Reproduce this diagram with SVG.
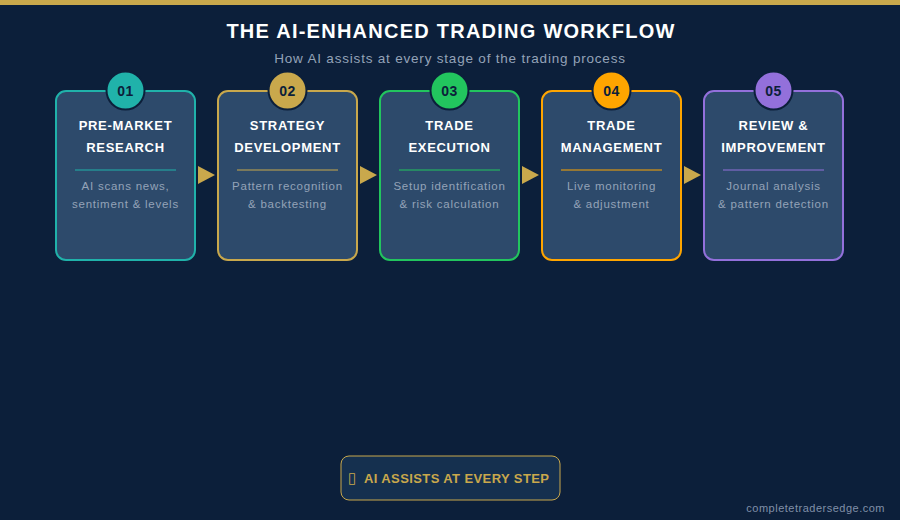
<svg xmlns="http://www.w3.org/2000/svg" width="900" height="520" viewBox="0 0 900 520">
<style>
.title{font-family:"Liberation Sans",Arial,sans-serif;font-weight:bold;font-size:20px;fill:#ffffff;text-anchor:middle;letter-spacing:1.25px}
.sub{font-family:"Liberation Sans",Arial,sans-serif;font-size:13.5px;fill:#94a3b8;text-anchor:middle;letter-spacing:0.8px}
.card{fill:#2d4a6b;stroke-width:2}
.num{font-family:"Liberation Sans",Arial,sans-serif;font-weight:bold;font-size:14px;fill:#0c1f3a;text-anchor:middle;letter-spacing:0.5px}
.head{font-family:"Liberation Sans",Arial,sans-serif;font-weight:bold;font-size:13px;fill:#ffffff;text-anchor:middle;letter-spacing:0.7px}
.desc{font-family:"Liberation Sans",Arial,sans-serif;font-size:11.5px;fill:#94a3b8;text-anchor:middle;letter-spacing:0.75px}
.arrow{fill:#c9a84c}
.badge{font-family:"Liberation Sans",Arial,sans-serif;font-weight:bold;font-size:13px;fill:#c9a84c;letter-spacing:0.4px}
.foot{font-family:"Liberation Sans",Arial,sans-serif;font-size:11px;fill:#8090a8;text-anchor:end;letter-spacing:0.5px}
</style>
<rect x="0" y="0" width="900" height="520" fill="#0c1f3a"/>
<rect x="0" y="0" width="900" height="5" fill="#c9a84c"/>
<text class="title" x="451" y="38">THE AI-ENHANCED TRADING WORKFLOW</text>
<text class="sub" x="450" y="63">How AI assists at every stage of the trading process</text>

<g id="connectors">
<polygon class="arrow" points="198,166 215,175 198,184"/>
<polygon class="arrow" points="360,166 377,175 360,184"/>
<polygon class="arrow" points="522,166 539,175 522,184"/>
<polygon class="arrow" points="684,166 701,175 684,184"/>
</g>

<g id="step1">
<rect class="card" x="56" y="91" width="139" height="169" rx="10" stroke="#20b2aa"/>
<circle cx="125.5" cy="90.5" r="19" fill="#20b2aa" stroke="#0c1f3a" stroke-width="2"/>
<text class="num" x="125.5" y="96">01</text>
<text class="head" x="125.5" y="130">PRE-MARKET</text>
<text class="head" x="125.5" y="152">RESEARCH</text>
<line x1="75" y1="170" x2="176" y2="170" stroke="#20b2aa" stroke-width="1"/>
<text class="desc" x="125.5" y="190">AI scans news,</text>
<text class="desc" x="125.5" y="208">sentiment &amp; levels</text>
</g>

<g id="step2">
<rect class="card" x="218" y="91" width="139" height="169" rx="10" stroke="#c9a84c"/>
<circle cx="287.5" cy="90.5" r="19" fill="#c9a84c" stroke="#0c1f3a" stroke-width="2"/>
<text class="num" x="287.5" y="96">02</text>
<text class="head" x="287.5" y="130">STRATEGY</text>
<text class="head" x="287.5" y="152">DEVELOPMENT</text>
<line x1="237" y1="170" x2="338" y2="170" stroke="#c9a84c" stroke-width="1"/>
<text class="desc" x="287.5" y="190">Pattern recognition</text>
<text class="desc" x="287.5" y="208">&amp; backtesting</text>
</g>

<g id="step3">
<rect class="card" x="380" y="91" width="139" height="169" rx="10" stroke="#22c55e"/>
<circle cx="449.5" cy="90.5" r="19" fill="#22c55e" stroke="#0c1f3a" stroke-width="2"/>
<text class="num" x="449.5" y="96">03</text>
<text class="head" x="449.5" y="130">TRADE</text>
<text class="head" x="449.5" y="152">EXECUTION</text>
<line x1="399" y1="170" x2="500" y2="170" stroke="#22c55e" stroke-width="1"/>
<text class="desc" x="449.5" y="190">Setup identification</text>
<text class="desc" x="449.5" y="208">&amp; risk calculation</text>
</g>

<g id="step4">
<rect class="card" x="542" y="91" width="139" height="169" rx="10" stroke="#ffa500"/>
<circle cx="611.5" cy="90.5" r="19" fill="#ffa500" stroke="#0c1f3a" stroke-width="2"/>
<text class="num" x="611.5" y="96">04</text>
<text class="head" x="611.5" y="130">TRADE</text>
<text class="head" x="611.5" y="152">MANAGEMENT</text>
<line x1="561" y1="170" x2="662" y2="170" stroke="#ffa500" stroke-width="1"/>
<text class="desc" x="611.5" y="190">Live monitoring</text>
<text class="desc" x="611.5" y="208">&amp; adjustment</text>
</g>

<g id="step5">
<rect class="card" x="704" y="91" width="139" height="169" rx="10" stroke="#9370db"/>
<circle cx="773.5" cy="90.5" r="19" fill="#9370db" stroke="#0c1f3a" stroke-width="2"/>
<text class="num" x="773.5" y="96">05</text>
<text class="head" x="773.5" y="130">REVIEW &amp;</text>
<text class="head" x="773.5" y="152">IMPROVEMENT</text>
<line x1="723" y1="170" x2="824" y2="170" stroke="#9370db" stroke-width="1"/>
<text class="desc" x="773.5" y="190">Journal analysis</text>
<text class="desc" x="773.5" y="208">&amp; pattern detection</text>
</g>

<g id="badge">
<rect x="341" y="456" width="219" height="44" rx="8" fill="#15304f" stroke="#c9a84c" stroke-width="1"/>
<text class="badge" x="348" y="483" style="font-family:'DejaVu Sans',sans-serif;font-weight:normal;font-size:15px">▯</text>
<text class="badge" x="364" y="483">AI ASSISTS AT EVERY STEP</text>
</g>

<text class="foot" x="885" y="512">completetradersedge.com</text>
</svg>
